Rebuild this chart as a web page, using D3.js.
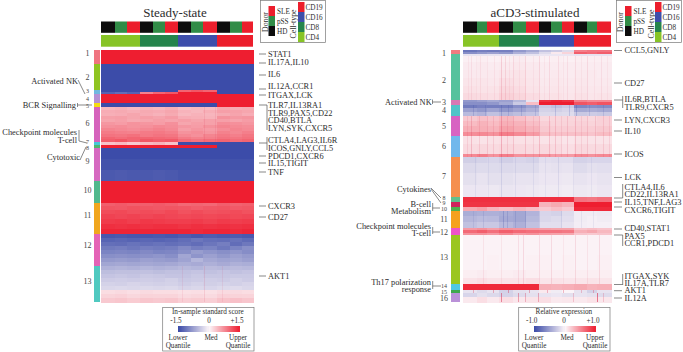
<!DOCTYPE html>
<html>
<head>
<meta charset="utf-8">
<script src="https://cdn.jsdelivr.net/npm/d3@7"></script>
<style>
	html, body {margin: 0; padding: 0; background: #fff;}
	svg {display: block; opacity: 0.99;}
	text {font-family: "Liberation Serif", serif; fill: #2b2b2b;}
	.tick {stroke: #555; stroke-width: 0.7; fill: none;}
</style>
</head>
<body>
<script>
//samples per donor/cell-type column, read from the strip widths
var donors = ["HD", "pSS", "SLE"];
var cellTypes = ["CD4", "CD8", "CD16", "CD19"];
var donorColors = {HD: "#0b0b0b", pSS: "#2f8b45", SLE: "#ec1c2a"};
var cellColors = {CD4: "#86c424", CD8: "#23834a", CD16: "#3b4cab", CD19: "#ec1c2a"};

var steadySamples = [14, 12, 13, 13, 12, 13, 13, 12, 14, 13, 12, 11];
var acd3Samples = [14, 10, 12, 14, 13, 13, 12, 11, 12, 13, 10, 14];

//genes per cluster and the cluster bar colors
var steadyClusterSizes = [14, 26, 4, 9, 4, 35, 3, 3, 33, 22, 31, 32, 36];
var steadyClusterColors = ["#f0737f", "#8fc41f", "#6fb9e0", "#b58fd4", "#f5dc12", "#d662bc", "#45c8d8", "#4fb56f", "#d668c0", "#4fb88c", "#f0a51c", "#e462b6", "#4ec9c0"];
var acd3ClusterSizes = [4, 46, 5, 11, 20, 21, 40, 5, 5, 4, 17, 7, 49, 6, 3, 9];
var acd3ClusterColors = ["#ee7a7f", "#55c29c", "#d878b4", "#4fc4c8", "#d862c2", "#70b8ec", "#f58e4c", "#5fc08c", "#d0205a", "#4db04c", "#f5a01c", "#ee52c8", "#9ac61e", "#4fc8e4", "#3da84c", "#ba90d8"];

//[genes in band, value per column] column order CD4 x3, CD8 x3, CD16 x3, CD19 x3
var steadyRows = [
	[14, [1.5, 1.5, 1.5, 1.5, 1.5, 1.5, 1.5, 1.5, 1.5, 1.5, 1.5, 1.5]],
	[26, [-1.5, -1.5, -1.5, -1.5, -1.5, -1.5, -1.5, -1.5, -1.5, -1.5, -1.5, -1.5]],
	[2, [-1.5, -1.5, -1.5, -1.5, -1.5, -1.5, 1, 1.1, 1, -1.5, -1.5, -1.5]],
	[2, [-1.3, -1.2, -1.3, 0.8, 1, 1.1, 1.5, 1.5, 1.5, -1.5, -1.5, -1.5]],
	[9, [1.5, 1.5, 1.5, 1.5, 1.5, 1.5, 1.5, 1.5, 1.5, 1.5, 1.5, 1.5]],
	[4, [-1.5, -1.5, -1.5, -1.5, -1.5, -1.5, -1.5, -1.5, -1.5, 1.5, 1.5, 1.5]],
	[3, [0.42, 0.45, 0.4, 0.45, 0.42, 0.48, 0.38, 0.42, 0.4, 0.55, 0.5, 0.52]],
	[3, [0.5, 0.52, 0.48, 0.52, 0.5, 0.55, 0.45, 0.42, 0.48, 0.6, 0.58, 0.55]],
	[3, [0.48, 0.5, 0.55, 0.5, 0.46, 0.52, 0.42, 0.46, 0.44, 0.52, 0.56, 0.5]],
	[3, [0.58, 0.6, 0.55, 0.6, 0.56, 0.62, 0.5, 0.48, 0.46, 0.68, 0.64, 0.66]],
	[3, [0.55, 0.58, 0.52, 0.55, 0.6, 0.56, 0.6, 0.55, 0.58, 0.6, 0.56, 0.62]],
	[3, [0.65, 0.62, 0.68, 0.66, 0.62, 0.7, 0.55, 0.6, 0.58, 0.72, 0.7, 0.66]],
	[3, [0.7, 0.72, 0.68, 0.7, 0.75, 0.72, 0.65, 0.62, 0.68, 0.78, 0.74, 0.72]],
	[3, [0.78, 0.75, 0.72, 0.76, 0.8, 0.75, 0.6, 0.66, 0.62, 0.72, 0.78, 0.74]],
	[3, [0.85, 0.82, 0.8, 0.85, 0.86, 0.82, 0.68, 0.72, 0.66, 0.8, 0.76, 0.82]],
	[3, [0.9, 0.88, 0.92, 0.86, 0.9, 0.88, 0.75, 0.7, 0.78, 0.86, 0.82, 0.88]],
	[2, [1, 0.95, 1, 1, 0.98, 0.95, 0.85, 0.8, 0.82, 0.9, 0.88, 0.92]],
	[3, [1.05, 1.1, 1, 1.1, 1.05, 1.08, 0.95, 0.9, 0.95, 1, 0.95, 1]],
	[3, [0.35, 0.4, 0.3, 0.4, 0.45, 0.35, -1.5, -1.5, -1.5, -1.5, -1.5, -1.5]],
	[3, [1.5, 1.5, 1.5, 1.5, 1.5, 1.5, 1.5, 1.5, 1.5, -1.5, -1.5, -1.5]],
	[11, [-1.5, -1.5, -1.5, -1.5, -1.5, -1.5, -1.5, -1.5, -1.5, -1.5, -1.5, -1.5]],
	[11, [-1.45, -1.45, -1.45, -1.45, -1.45, -1.45, -1.45, -1.45, -1.45, -1.45, -1.45, -1.45]],
	[11, [-1.38, -1.36, -1.38, -1.38, -1.36, -1.38, -1.42, -1.42, -1.42, -1.42, -1.42, -1.42]],
	[22, [1.5, 1.5, 1.5, 1.5, 1.5, 1.5, 1.5, 1.5, 1.5, 1.5, 1.5, 1.5]],
	[3, [1.05, 1.08, 1.05, 1.05, 1.08, 1.05, 0.98, 1, 0.98, 1.05, 1.02, 1.05]],
	[4, [1.12, 1.1, 1.14, 1.12, 1.1, 1.12, 1.1, 1.06, 1.1, 1.12, 1.08, 1.1]],
	[4, [1.18, 1.2, 1.16, 1.18, 1.16, 1.2, 1.14, 1.18, 1.14, 1.16, 1.18, 1.14]],
	[5, [1.25, 1.22, 1.25, 1.22, 1.25, 1.22, 1.2, 1.22, 1.2, 1.22, 1.2, 1.22]],
	[5, [1.3, 1.32, 1.28, 1.32, 1.3, 1.28, 1.28, 1.3, 1.26, 1.3, 1.28, 1.3]],
	[5, [1.38, 1.36, 1.38, 1.36, 1.38, 1.38, 1.35, 1.38, 1.36, 1.38, 1.36, 1.38]],
	[5, [1.45, 1.45, 1.45, 1.45, 1.45, 1.45, 1.45, 1.42, 1.45, 1.45, 1.42, 1.45]],
	[4, [-1.4, -1.38, -1.4, -1.4, -1.38, -1.4, -1.35, -1.4, -1.35, -1.38, -1.35, -1.38]],
	[4, [-1.28, -1.25, -1.28, -1.25, -1.28, -1.25, -1.2, -1.12, -1.18, -1.2, -1.15, -1.22]],
	[4, [-1.18, -1.2, -1.15, -1.18, -1.15, -1.18, -1.15, -1.2, -1.12, -1.05, -1.2, -1.1]],
	[4, [-1.08, -1.05, -1.1, -1.05, -1.08, -1.05, -0.95, -1.05, -1, -1.1, -1, -0.9]],
	[4, [-1, -0.98, -1, -0.95, -1, -0.98, -0.9, -0.78, -0.85, -0.9, -0.85, -0.92]],
	[4, [-0.9, -0.88, -0.9, -0.88, -0.85, -0.9, -0.7, -0.85, -0.75, -0.82, -0.75, -0.8]],
	[4, [-0.8, -0.78, -0.8, -0.75, -0.78, -0.8, -0.72, -0.55, -0.68, -0.72, -0.7, -0.75]],
	[4, [-0.7, -0.68, -0.7, -0.68, -0.7, -0.68, -0.62, -0.65, -0.6, -0.65, -0.6, -0.62]],
	[4, [-0.58, -0.56, -0.58, -0.55, -0.58, -0.56, -0.52, -0.55, -0.5, -0.52, -0.5, -0.52]],
	[4, [-0.48, -0.46, -0.46, -0.45, -0.48, -0.45, -0.45, -0.42, -0.45, -0.42, -0.45, -0.42]],
	[4, [-0.42, -0.4, -0.42, -0.38, -0.4, -0.42, -0.42, -0.38, -0.4, -0.4, -0.38, -0.38]],
	[4, [-0.36, -0.34, -0.36, -0.34, -0.36, -0.32, -0.38, -0.36, -0.34, -0.36, -0.32, -0.36]],
	[4, [-0.3, -0.32, -0.28, -0.3, -0.32, -0.3, -0.34, -0.3, -0.33, -0.3, -0.32, -0.28]],
	[4, [-0.26, -0.24, -0.26, -0.24, -0.26, -0.24, -0.28, -0.26, -0.27, -0.24, -0.22, -0.26]],
	[4, [0.16, 0.18, 0.15, 0.18, 0.16, 0.16, 0.14, 0.15, 0.14, 0.18, 0.18, 0.16]],
	[4, [0.22, 0.24, 0.2, 0.23, 0.22, 0.22, 0.18, 0.2, 0.18, 0.24, 0.23, 0.22]],
	[4, [0.3, 0.32, 0.28, 0.32, 0.3, 0.32, 0.26, 0.28, 0.26, 0.34, 0.36, 0.32]]
];

var acd3Rows = [
	[2, [-0.75, -0.7, -0.72, -0.7, -0.55, -0.45, -0.3, -0.25, -0.15, 0.55, 0.6, 0.6]],
	[2, [-0.6, -0.55, -0.5, -0.55, -0.4, -0.3, -0.15, 0.05, 0.15, 0.7, 0.65, 0.7]],
	[2, [-0.1, -0.1, -0.1, -0.1, -0.1, -0.1, -0.08, -0.08, -0.08, -0.1, -0.1, -0.1]],
	[6, [0.02, 0.03, 0.02, 0.03, 0.04, 0.03, 0.02, 0.03, 0.02, 0.03, 0.03, 0.03]],
	[8, [0.04, 0.05, 0.04, 0.05, 0.06, 0.05, 0.04, 0.04, 0.04, 0.04, 0.04, 0.04]],
	[8, [0.05, 0.05, 0.05, 0.07, 0.08, 0.06, 0.04, 0.05, 0.04, 0.05, 0.05, 0.04]],
	[8, [0.07, 0.07, 0.06, 0.1, 0.09, 0.07, 0.05, 0.06, 0.05, 0.06, 0.05, 0.05]],
	[7, [0.09, 0.08, 0.08, 0.13, 0.11, 0.08, 0.06, 0.07, 0.06, 0.07, 0.06, 0.06]],
	[7, [0.12, 0.11, 0.1, 0.16, 0.14, 0.11, 0.08, 0.09, 0.07, 0.09, 0.07, 0.08]],
	[2, [-0.55, -0.5, -0.45, -0.5, -0.35, -0.1, 0.9, 0.95, 0.9, 0.55, 0.5, 0.5]],
	[3, [-0.6, -0.6, -0.55, -0.45, -0.25, 0.25, 1, 1, 1, 0.75, 0.7, 0.75]],
	[3, [-0.72, -0.68, -0.7, -0.7, -0.6, -0.5, -0.25, -0.3, -0.25, -0.65, -0.6, -0.62]],
	[4, [-0.5, -0.55, -0.48, -0.55, -0.48, -0.4, -0.2, -0.22, -0.18, -0.45, -0.42, -0.45]],
	[4, [-0.34, -0.38, -0.3, -0.36, -0.32, -0.28, -0.16, -0.16, -0.15, -0.26, -0.24, -0.26]],
	[5, [0.2, 0.24, 0.22, 0.28, 0.24, 0.2, 0.13, 0.14, 0.14, 0.14, 0.13, 0.16]],
	[5, [0.26, 0.3, 0.26, 0.32, 0.3, 0.25, 0.17, 0.15, 0.15, 0.16, 0.15, 0.16]],
	[6, [0.32, 0.32, 0.3, 0.38, 0.34, 0.3, 0.2, 0.18, 0.18, 0.18, 0.18, 0.2]],
	[4, [0.48, 0.5, 0.46, 0.55, 0.5, 0.42, 0.26, 0.24, 0.24, 0.24, 0.22, 0.26]],
	[8, [0.09, 0.08, 0.09, 0.1, 0.09, 0.09, 0.08, 0.09, 0.07, 0.09, 0.08, 0.08]],
	[10, [0.12, 0.13, 0.12, 0.14, 0.13, 0.12, 0.13, 0.12, 0.1, 0.13, 0.12, 0.12]],
	[3, [0.5, 0.55, 0.46, 0.55, 0.46, 0.46, 0.46, 0.42, 0.42, 0.5, 0.46, 0.5]],
	[6, [-0.22, -0.2, -0.18, -0.22, -0.18, -0.2, -0.13, -0.14, -0.14, -0.2, -0.18, -0.18]],
	[10, [-0.16, -0.15, -0.15, -0.16, -0.15, -0.15, -0.1, -0.11, -0.1, -0.15, -0.12, -0.13]],
	[12, [-0.12, -0.1, -0.12, -0.12, -0.1, -0.1, -0.08, -0.08, -0.07, -0.1, -0.08, -0.1]],
	[12, [-0.08, -0.08, -0.07, -0.09, -0.08, -0.07, -0.06, -0.06, -0.05, -0.07, -0.06, -0.08]],
	[5, [0.92, 0.92, 0.92, 0.92, 0.92, 0.92, 0.92, 0.92, 0.92, 0.6, 0.58, 0.62]],
	[5, [0.9, 0.9, 0.9, 0.9, 0.9, 0.9, 0.3, 0.35, 0.3, 1, 1, 1]],
	[4, [0.35, 0.4, 0.3, 0.25, 0.3, 0.25, 0.2, 0.25, 0.2, 0.95, 0.95, 0.95]],
	[5, [-0.42, -0.4, -0.4, -0.42, -0.46, -0.38, -0.18, -0.2, -0.15, -0.05, -0.05, -0.06]],
	[6, [-0.36, -0.33, -0.34, -0.44, -0.46, -0.35, -0.17, -0.15, -0.13, -0.05, -0.03, -0.05]],
	[6, [-0.3, -0.26, -0.26, -0.34, -0.4, -0.3, -0.13, -0.13, -0.1, -0.04, -0.03, -0.03]],
	[2, [0.42, 0.46, 0.4, 0.46, 0.44, 0.42, 0.4, 0.38, 0.38, 0.22, 0.25, 0.22]],
	[3, [0.65, 0.7, 0.62, 0.7, 0.65, 0.62, 0.6, 0.6, 0.58, 0.32, 0.36, 0.28]],
	[2, [0.46, 0.46, 0.42, 0.5, 0.42, 0.46, 0.4, 0.38, 0.36, 0.22, 0.2, 0.22]],
	[20, [0.01, 0.01, 0.01, 0.01, 0.01, 0.01, 0.01, 0.01, 0.01, 0.01, 0.01, 0.01]],
	[15, [0.01, 0.01, 0.02, 0.01, 0.01, 0.02, 0.02, 0.01, 0.02, 0.01, 0.01, 0.02]],
	[8, [0.03, 0.04, 0.03, 0.03, 0.04, 0.03, 0.03, 0.03, 0.03, 0.03, 0.03, 0.03]],
	[6, [0.08, 0.1, 0.08, 0.08, 0.08, 0.1, 0.07, 0.08, 0.07, 0.07, 0.08, 0.07]],
	[6, [0.95, 0.95, 0.95, 0.95, 0.95, 0.95, 0.32, 0.3, 0.32, 0.35, 0.3, 0.32]],
	[3, [-0.1, -0.15, -0.1, -0.2, -0.12, -0.1, 0.05, -0.05, 0, -0.1, -0.2, -0.1]],
	[4, [-0.18, -0.12, -0.16, -0.2, -0.15, -0.12, -0.1, -0.08, -0.12, -0.1, -0.12, -0.15]],
	[5, [0.05, 0.1, 0.05, 0.1, 0.06, 0.08, 0.1, 0.05, 0.06, 0.05, 0.08, 0.06]]
];

//thin vertical streaks: [sample, first gene, last gene, strength], negative strength is blue
var steadyStreaks = [[103, 57, 92, 0.12], [103, 216, 252, 0.12], [81, 216, 252, 0.08], [121, 216, 252, 0.08], [114, 57, 92, 0.1]];
var acd3Streaks = [
	[5, 6, 50, 0.05], [8, 6, 50, 0.08], [13, 6, 50, 0.04], [17, 6, 50, 0.07], [24, 6, 50, 0.05], [31, 6, 50, 0.06], [38, 6, 50, 0.16], [42, 6, 50, 0.12], [46, 6, 50, 0.06], [50, 6, 50, 0.1], [56, 6, 50, 0.05], [62, 6, 50, 0.11], [70, 6, 50, 0.05], [76, 6, 50, 0.12], [81, 6, 50, 0.05], [86, 6, 50, 0.1], [95, 6, 50, 0.09], [100, 6, 50, 0.05], [104, 6, 50, 0.08], [112, 6, 50, 0.09], [118, 6, 50, 0.05], [124, 6, 50, 0.1], [131, 6, 50, 0.05], [138, 6, 50, 0.08], [144, 6, 50, 0.05],
	[10, 55, 66, -0.2], [22, 55, 66, -0.16], [38, 55, 66, -0.25], [45, 55, 66, -0.18], [58, 55, 66, -0.2], [72, 55, 66, -0.15], [92, 55, 66, -0.2], [106, 55, 66, -0.2], [113, 55, 66, -0.25], [126, 55, 66, -0.15], [140, 55, 66, -0.15],
	[4, 66, 107, 0.1], [8, 66, 107, 0.2], [16, 66, 107, 0.12], [24, 66, 107, 0.14], [30, 66, 107, 0.12], [38, 66, 107, 0.26], [44, 66, 107, 0.12], [50, 66, 107, 0.17], [62, 66, 107, 0.16], [70, 66, 107, 0.1], [76, 66, 107, 0.2], [86, 66, 107, 0.18], [92, 66, 107, 0.16], [98, 66, 107, 0.1], [104, 66, 107, 0.14], [112, 66, 107, 0.18], [118, 66, 107, 0.1], [124, 66, 107, 0.14], [132, 66, 107, 0.14], [140, 66, 107, 0.12], [146, 66, 107, 0.1],
	[12, 107, 147, -0.08], [25, 107, 147, -0.06], [38, 107, 147, -0.12], [52, 107, 147, -0.08], [70, 107, 147, -0.08], [82, 107, 147, -0.06], [95, 107, 147, -0.1], [110, 107, 147, -0.08], [128, 107, 147, -0.06],
	[10, 161, 178, -0.1], [20, 161, 178, -0.12], [40, 161, 178, -0.25], [44, 161, 178, -0.18], [52, 161, 178, -0.15], [62, 161, 178, -0.15], [76, 161, 178, -0.14], [98, 161, 178, -0.1], [118, 161, 178, -0.08], [130, 161, 178, -0.08],
	[20, 185, 234, 0.08], [38, 185, 234, 0.07], [55, 185, 234, 0.1], [60, 185, 234, 0.13], [76, 185, 234, 0.1], [88, 185, 234, 0.12], [100, 185, 234, 0.06], [112, 185, 234, 0.12], [124, 185, 234, 0.08], [136, 185, 234, 0.12],
	[38, 243, 252, 0.5], [55, 243, 252, 0.4], [62, 243, 252, 0.3], [75, 243, 252, 0.35], [110, 243, 252, 0.2], [134, 243, 252, 0.6], [140, 243, 252, 0.2],
	[10, 240, 243, 0.3], [30, 240, 243, 0.35], [45, 240, 243, 0.4], [66, 240, 243, 0.35], [84, 240, 243, 0.3], [100, 240, 243, 0.3], [118, 240, 243, 0.25], [130, 240, 243, 0.3]
];

//gene labels with their row in the heatmap
var steadyGenes = ["STAT1", "IL17A,IL10", "IL6", "IL12A,CCR1", "ITGAX,LCK", "TLR7,IL13RA1", "TLR9,PAX5,CD22", "CD40,BTLA", "LYN,SYK,CXCR5", "CTLA4,LAG3,IL6R", "ICOS,GNLY,CCL5", "PDCD1,CXCR6", "IL15,TIGIT", "TNF", "CXCR3", "CD27", "AKT1"];
var steadyGeneRows = [4, 12, 24, 36, 45, 55, 63, 70, 78, 90, 98, 106, 113, 122, 156, 167, 226];
var acd3Genes = ["CCL5,GNLY", "CD27", "IL6R,BTLA", "TLR9,CXCR5", "LYN,CXCR3", "IL10", "ICOS", "LCK", "CTLA4,IL6", "CD22,IL13RA1", "IL15,TNF,LAG3", "CXCR6,TIGIT", "CD40,STAT1", "PAX5", "CCR1,PDCD1", "ITGAX,SYK", "IL17A,TLR7", "AKT1", "IL12A"];
var acd3GeneRows = [0.5, 33, 49, 57, 70, 81, 104, 127.5, 137, 144.5, 152, 160, 178, 186, 193.5, 226.5, 233, 240, 248];

var steadyLegendLabels = ["-1.5", "0", "+1.5"];
var acd3LegendLabels = ["-1.0", "0", "+1.0"];

window.onload = setPage();

function setPage(){
	var svg = d3.select("body")
		.append("svg")
		.attr("width", 683)
		.attr("height", 352);

	var steady = setHeatmap(svg, {
		title: "Steady-state", titleX: 175,
		x0: 101, x1: 253, barX: 94, barW: 6,
		samples: steadySamples, rows: steadyRows, streaks: steadyStreaks,
		sizes: steadyClusterSizes, colors: steadyClusterColors, max: 1.5
	});
	var acd3 = setHeatmap(svg, {
		title: "aCD3-stimulated", titleX: 535,
		x0: 463, x1: 611, barX: 451, barW: 9,
		samples: acd3Samples, rows: acd3Rows, streaks: acd3Streaks,
		sizes: acd3ClusterSizes, colors: acd3ClusterColors, max: 1
	});

	//cluster numbers
	setNumbers(svg, 87.5, steady.y, [3.5, 27, 41, 48.5, 55.5, 73, 91.5, 98, 111.5, 140, 165, 195, 231], 8, [2, 3, 4, 6, 7]);
	setNumbers(svg, 444, acd3.y, [3, 30, 52, 60, 76, 95.7, 125.7, 147.7, 153, 158.7, 169, 182, 206.7, 236, 242, 248.5], 8, [7, 8, 9, 13, 14]);

	setGeneLabels(svg, 268, steady.y, steadyGenes, steadyGeneRows);
	setGeneLabels(svg, 624.5, acd3.y, acd3Genes, acd3GeneRows);

	//brackets that tie several genes to one tick
	setLines(svg, [
		[[267, 105], [267, 130]], [[267, 137], [267, 150]],
		[[622.7, 96], [622.7, 108]], [[622.7, 184], [622.7, 198]], [[614, 198], [622.7, 198]],
		[[622.7, 235], [622.7, 246]], [[622.7, 274], [622.7, 285]], [[614, 284.5], [622.7, 284.5]]
	]);

	setCallouts(svg);

	setDonorKey(svg, 260, 265, 268.5, 293, 298, 65);
	setDonorKey(svg, 616, 620.5, 625, 651, 655, 65);

	setColorbar(svg, steady.color, 162.7, 254, 178, 239, "In-sample standard score", steadyLegendLabels, [176, 209, 237], [178, 211, 238]);
	setColorbar(svg, acd3.color, 518.7, 610, 534, 595, "Relative expression", acd3LegendLabels, [531.7, 564, 593], [534, 567, 595]);
}

function setHeatmap(svg, opt){
	//sample and gene scales
	var totalSamples = d3.sum(opt.samples),
		totalGenes = d3.sum(opt.rows, function(d){ return d[0]; });
	var x = d3.scaleLinear().domain([0, totalSamples]).range([opt.x0, opt.x1]);
	var y = d3.scaleLinear().domain([0, totalGenes]).range([50, 302]);
	var color = d3.scaleLinear()
		.domain([-opt.max, 0, opt.max])
		.range(["#3a4aa8", "#fbf4f8", "#ee1c2e"])
		.clamp(true);

	svg.append("text")
		.attr("x", opt.titleX)
		.attr("y", 17)
		.attr("text-anchor", "middle")
		.style("font-size", "13px")
		.text(opt.title);

	//column starts
	var colStart = [0];
	opt.samples.forEach(function(n, i){ colStart.push(colStart[i] + n); });

	//donor strip
	svg.selectAll(null)
		.data(opt.samples)
		.enter()
		.append("rect")
		.attr("x", function(d, i){ return x(colStart[i]); })
		.attr("y", 21.5)
		.attr("width", function(d){ return x(d) - x(0); })
		.attr("height", 11.3)
		.style("fill", function(d, i){ return donorColors[donors[i % 3]]; });

	//cell type strip
	cellTypes.forEach(function(c, k){
		svg.append("rect")
			.attr("x", x(colStart[k * 3]))
			.attr("y", 35)
			.attr("width", x(colStart[k * 3 + 3]) - x(colStart[k * 3]))
			.attr("height", 11.7)
			.style("fill", cellColors[c]);
	});

	//cluster bar
	var start = 0;
	opt.sizes.forEach(function(n, i){
		svg.append("rect")
			.attr("x", opt.barX)
			.attr("y", y(start))
			.attr("width", opt.barW)
			.attr("height", y(n) - y(0))
			.style("fill", opt.colors[i]);
		start += n;
	});

	//heatmap cells, one rect per band and column
	var g = svg.append("g").attr("shape-rendering", "crispEdges");
	var rowStart = 0;
	opt.rows.forEach(function(row){
		row[1].forEach(function(v, c){
			g.append("rect")
				.attr("x", x(colStart[c]))
				.attr("y", y(rowStart))
				.attr("width", x(opt.samples[c]) - x(0) + 0.5)
				.attr("height", y(row[0]) - y(0) + 0.5)
				.style("fill", color(v));
		});
		rowStart += row[0];
	});

	g.selectAll(".streak")
		.data(opt.streaks)
		.enter()
		.append("rect")
		.attr("class", "streak")
		.attr("x", function(d){ return x(d[0]); })
		.attr("y", function(d){ return y(d[1]); })
		.attr("width", 1)
		.attr("height", function(d){ return y(d[2]) - y(d[1]); })
		.style("fill", function(d){ return d[3] < 0 ? "#3a4aa8" : "#d8284c"; })
		.style("opacity", function(d){ return Math.abs(d[3]); });

	return {x: x, y: y, color: color};
}

function setNumbers(svg, x, y, rows, size, small){
	svg.selectAll(null)
		.data(rows)
		.enter()
		.append("text")
		.attr("x", x)
		.attr("y", function(d){ return y(d); })
		.attr("dy", "0.35em")
		.attr("text-anchor", "middle")
		.style("font-size", function(d, i){
			//the squeezed clusters get a smaller number
			return small.indexOf(i) >= 0 ? "6px" : size + "px";
		})
		.style("fill", "#444")
		.text(function(d, i){ return i + 1; });
}

function setGeneLabels(svg, textX, y, genes, rows){
	genes.forEach(function(gene, i){
		svg.append("text")
			.attr("x", textX)
			.attr("y", y(rows[i]))
			.attr("dy", "0.35em")
			.style("font-size", "8.4px")
			.text(gene);
	});
}

function setLines(svg, lines){
	svg.selectAll(null)
		.data(lines)
		.enter()
		.append("path")
		.attr("class", "tick")
		.attr("d", d3.line());
}

function setCallouts(svg){
	//ticks beside gene labels
	var ticks = [
		[259, 266, 54], [259, 266, 63], [259, 266, 75], [259, 266, 89], [259, 266, 95], [259, 267, 105], [259, 267, 143], [259, 266, 156], [259, 266, 163], [259, 266, 172], [259, 266, 206], [259, 266, 217], [259, 266, 276],
		[614, 622, 50.5], [614, 622, 83], [614, 622.7, 100], [614, 622, 120], [614, 622, 131], [614, 622, 154], [614, 622, 177.5], [614, 622, 202], [614, 622, 207], [614, 622, 229], [614, 622.7, 235], [614, 622, 290.7], [614, 622, 298]
	];
	setLines(svg, ticks.map(function(t){ return [[t[0], t[2]], [t[1], t[2]]]; }));

	var notes = [
		["Activated NK", 78, 81], ["BCR Signalling", 76, 105.5], ["Checkpoint molecules", 77, 132], ["T-cell", 77, 140], ["Cytotoxic", 80, 157],
		["Activated NK", 431.7, 101.7], ["Cytokines", 431, 189], ["B-cell", 431, 204], ["Metabolism", 431, 211], ["Checkpoint molecules", 431, 226], ["T-cell", 431, 233.5], ["Th17 polarization", 431, 281.7], ["response", 431, 289]
	];
	notes.forEach(function(n){
		svg.append("text")
			.attr("x", n[1])
			.attr("y", n[2])
			.attr("dy", "0.35em")
			.attr("text-anchor", "end")
			.style("font-size", "8.4px")
			.text(n[0]);
	});

	setLines(svg, [
		[[78, 80], [85, 94]],
		[[77.5, 103], [77.5, 107]], [[77.5, 105], [92, 105]],
		[[79, 130], [79, 141]], [[79, 141], [87, 143]],
		[[80, 160], [86, 147]],
		[[432.5, 99.5], [432.5, 104]], [[432.5, 102], [441, 102]],
		[[431, 188], [441, 198]], [[431, 189], [441, 203]],
		[[432.7, 203], [432.7, 211]], [[432.7, 208], [440, 208]],
		[[432.7, 227], [432.7, 234]], [[432.7, 232], [440, 232]],
		[[432.7, 281], [432.7, 289]], [[432.7, 286], [441, 286]]
	]);
}

function setDonorKey(svg, boxX, donorX, donorBarX, cellX, cellBarX, boxW){
	svg.append("rect")
		.attr("x", boxX + 0.5)
		.attr("y", 0.5)
		.attr("width", boxW)
		.attr("height", 42)
		.style("fill", "#fff")
		.style("stroke", "#777")
		.style("stroke-width", 0.7);

	[["Donor", donorX, 22], ["Cell-type", cellX, 24]].forEach(function(t){
		svg.append("text")
			.attr("transform", "translate(" + t[1] + "," + t[2] + ") rotate(-90)")
			.attr("dy", "0.35em")
			.attr("text-anchor", "middle")
			.style("font-size", "7.8px")
			.text(t[0]);
	});

	//donor swatches, SLE on top
	var donorY = d3.scaleBand().domain(donors.slice().reverse()).range([6, 36]);
	donorY.domain().forEach(function(d){
		svg.append("rect")
			.attr("x", donorBarX)
			.attr("y", donorY(d))
			.attr("width", 6.5)
			.attr("height", donorY.bandwidth())
			.style("fill", donorColors[d]);
		svg.append("text")
			.attr("x", donorBarX + 8.5)
			.attr("y", donorY(d) + donorY.bandwidth() / 2)
			.attr("dy", "0.35em")
			.style("font-size", "7.2px")
			.text(d);
	});

	var cellY = d3.scaleBand().domain(cellTypes.slice().reverse()).range([2, 42]);
	cellY.domain().forEach(function(c){
		svg.append("rect")
			.attr("x", cellBarX)
			.attr("y", cellY(c))
			.attr("width", 6.5)
			.attr("height", cellY.bandwidth())
			.style("fill", cellColors[c]);
		svg.append("text")
			.attr("x", cellBarX + 7.5)
			.attr("y", cellY(c) + cellY.bandwidth() / 2)
			.attr("dy", "0.35em")
			.style("font-size", "7.2px")
			.text(c);
	});
}

function setColorbar(svg, color, boxX0, boxX1, barX0, barX1, title, labels, labelX, wordX){
	svg.append("rect")
		.attr("x", boxX0)
		.attr("y", 307.5)
		.attr("width", boxX1 - boxX0)
		.attr("height", 43.5)
		.style("fill", "#fff")
		.style("stroke", "#777")
		.style("stroke-width", 0.7);

	function word(str, x, y, size){
		svg.append("text")
			.attr("x", x)
			.attr("y", y)
			.attr("dy", "0.35em")
			.attr("text-anchor", "middle")
			.style("font-size", (size || 7.2) + "px")
			.text(str);
	}

	word(title, (boxX0 + boxX1) / 2 - 0.5, 311.7);
	labels.forEach(function(l, i){ word(l, labelX[i], 320); });

	//color ramp pulled from the same scale as the cells
	var domain = color.domain(),
		barScale = d3.scaleLinear().domain([domain[0], domain[2]]).range([barX0, barX1]),
		steps = d3.range(domain[0], domain[2], (domain[2] - domain[0]) / 60);
	svg.append("g").attr("shape-rendering", "crispEdges")
		.selectAll("rect")
		.data(steps)
		.enter()
		.append("rect")
		.attr("x", function(d){ return barScale(d); })
		.attr("y", 325.7)
		.attr("width", (barX1 - barX0) / 60 + 0.5)
		.attr("height", 6)
		.style("fill", function(d){ return color(d); });

	word("Lower", wordX[0], 337);
	word("Med", wordX[1], 337);
	word("Upper", wordX[2], 337);
	word("Quantile", wordX[0], 345.7);
	word("Quantile", wordX[2], 345.7);
}
</script>
</body>
</html>
